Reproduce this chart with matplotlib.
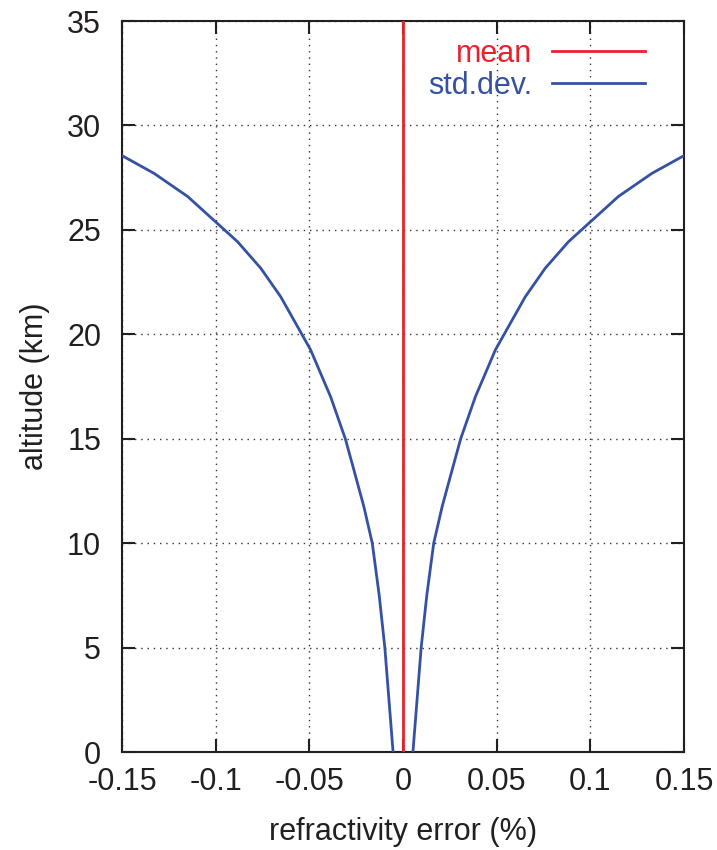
import matplotlib
matplotlib.use("Agg")
import matplotlib.pyplot as plt
import numpy as np

# data (altitude in km, std.dev in %)
altitude = [0, 2.5, 5, 7.5, 10, 11.75, 13.5, 15, 17, 19.25, 20.05, 21.8, 23.16, 24.43, 25.3, 26.6, 27.7, 28.58]
std_dev = [0.0053, 0.0075, 0.0097, 0.0127, 0.0164, 0.0209, 0.0262, 0.0308, 0.0386, 0.0493, 0.0543,
           0.0653, 0.0759, 0.0883, 0.0990, 0.1150, 0.1328, 0.1505]
mean_alt = [0, 35]
mean_val = [0, 0]

xticks = [-0.15, -0.1, -0.05, 0, 0.05, 0.1, 0.15]
xticklabels = ["-0.15", "-0.1", "-0.05", "0", "0.05", "0.1", "0.15"]
yticks = [0, 5, 10, 15, 20, 25, 30, 35]

red = "#e8212b"
blue = "#3451a3"
ink = "#231f20"

plt.rcParams["font.family"] = ["Liberation Sans", "DejaVu Sans"]

fig = plt.figure(figsize=(7.17, 8.5), dpi=100)
ax = fig.add_axes([122 / 717, 1 - 752 / 850, (684 - 122) / 717, (752 - 21) / 850])

sd = np.array(std_dev)
ax.plot(mean_val, mean_alt, color=red, lw=2.0, label="mean", zorder=3)
ax.plot(sd, altitude, color=blue, lw=2.0, label="std.dev.", zorder=3, solid_joinstyle="round")
ax.plot(-sd, altitude, color=blue, lw=2.0, zorder=3, solid_joinstyle="round")

ax.set_xlim(-0.15, 0.15)
ax.set_ylim(0, 35)
ax.set_xticks(xticks)
ax.set_xticklabels(xticklabels)
ax.set_yticks(yticks)

ax.tick_params(direction="in", length=9.5, width=1.5, top=True, right=True,
               labelsize=22, colors=ink)
ax.tick_params(axis="x", pad=11)
ax.tick_params(axis="y", pad=15)
for s in ax.spines.values():
    s.set_linewidth(1.5)
    s.set_color(ink)

ax.grid(True, linestyle=(0, (1, 3.5)), color="#333333", lw=1.0)
ax.set_axisbelow(True)

ax.set_xlabel("refractivity error (%)", fontsize=22, color=ink, labelpad=14)
ax.set_ylabel("altitude (km)", fontsize=22, color=ink, labelpad=12)

leg = ax.legend(loc="upper right", frameon=False, markerfirst=False,
                fontsize=22, handlelength=3.05, handletextpad=0.65,
                labelcolor="linecolor", borderpad=0, borderaxespad=0,
                labelspacing=0.05,
                bbox_to_anchor=((645 - 122) / 562, (752 - 39) / 731))
for t in leg.get_texts():
    t.set_ha("right")

fig.savefig("out.png", dpi=100)
